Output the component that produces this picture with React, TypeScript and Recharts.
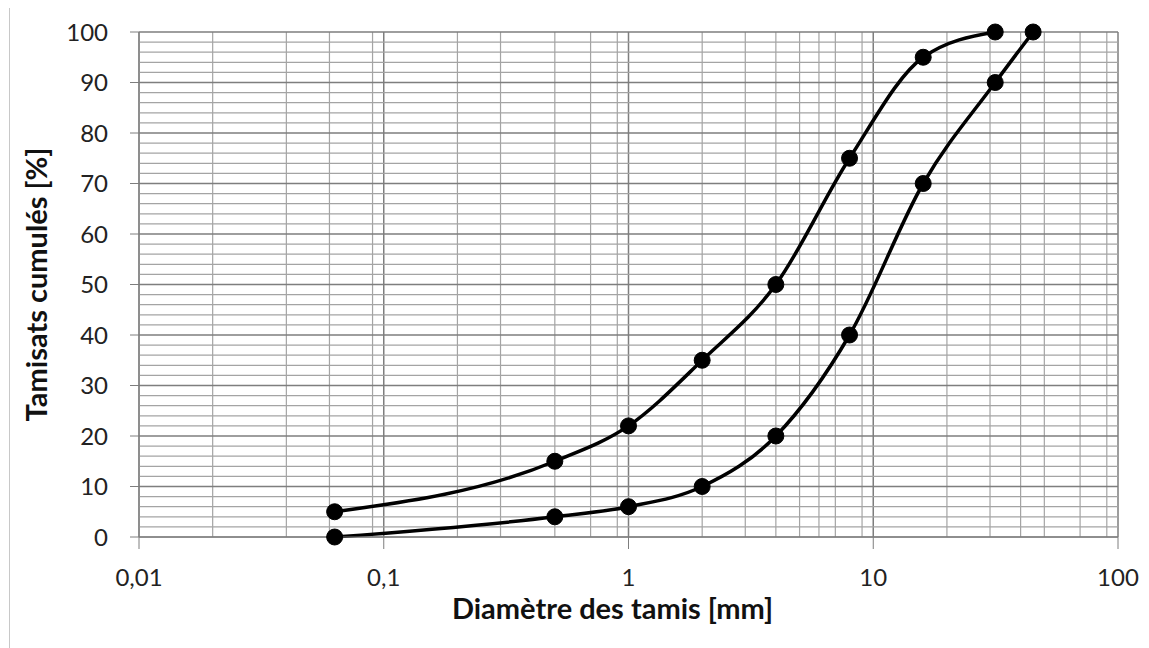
import { LineChart, Line, XAxis, YAxis, CartesianGrid, Label, ReferenceLine } from 'recharts';

// tamis (mm) et tamisats cumulés (%) des deux courbes granulométriques
const sieveA = [0.063, 0.5, 1, 2, 4, 8, 16, 31.5];
const passingA = [5, 15, 22, 35, 50, 75, 95, 100];
const sieveB = [0.063, 0.5, 1, 2, 4, 8, 16, 31.5, 45];
const passingB = [0, 4, 6, 10, 20, 40, 70, 90, 100];

const xTicks = [0.01, 0.1, 1, 10, 100];
const yTicks = [0, 10, 20, 30, 40, 50, 60, 70, 80, 90, 100];

const curveA = sieveA.map((d, i) => ({ d, p: passingA[i] }));
const curveB = sieveB.map((d, i) => ({ d, p: passingB[i] }));

// grille secondaire : 2..9 dans chaque décade, tous les 2 % en vertical
const minorX: number[] = [];
[0.01, 0.1, 1, 10].forEach(dec => {
  for (let k = 2; k <= 9; k++) minorX.push(+(dec * k).toPrecision(3));
});
const minorY: number[] = [];
for (let v = 2; v < 100; v += 2) if (v % 10 !== 0) minorY.push(v);

const font = 'Lato, "Open Sans", sans-serif';
const fmt = (v: number) => String(v).replace('.', ',');

export default function App() {
  return (
    <div style={{ position: 'absolute', left: 0, top: 0, width: 1149, height: 648, background: '#fff' }}>
      <div style={{ position: 'absolute', left: 9, top: 8, bottom: 0, borderLeft: '1px solid #c8c8c8' }} />
      <LineChart
        width={1149}
        height={648}
        margin={{ top: 32, right: 31, bottom: 51, left: 59 }}
        style={{ fontFamily: font }}
      >
        <CartesianGrid stroke="#a4a4a4" strokeWidth={1.2} verticalValues={minorX} horizontal={false} />
        {minorY.map(v => (
          <ReferenceLine key={v} y={v} stroke="#a4a4a4" strokeWidth={1.2} />
        ))}
        <CartesianGrid stroke="#7e7e7e" strokeWidth={1.5} verticalValues={xTicks} horizontalValues={yTicks} />
        <XAxis
          type="number"
          dataKey="d"
          scale="log"
          domain={[0.01, 100]}
          ticks={xTicks}
          allowDataOverflow
          tickFormatter={fmt}
          height={60}
          tickSize={12}
          tickMargin={20}
          stroke="#7e7e7e"
          tick={{ fill: '#222', fontSize: 24, fontFamily: font }}
        >
          <Label
            value="Diamètre des tamis [mm]"
            position="bottom"
            offset={1}
            dx={-16}
            style={{ fill: '#111', fontSize: 29, fontWeight: 700, fontFamily: font }}
          />
        </XAxis>
        <YAxis
          type="number"
          domain={[0, 100]}
          ticks={yTicks}
          width={80}
          tickSize={9}
          tickMargin={22}
          stroke="#7e7e7e"
          tick={{ fill: '#222', fontSize: 24, fontFamily: font }}
        >
          <Label
            value="Tamisats cumulés [%]"
            position="left"
            angle={-90}
            offset={22}
            style={{ textAnchor: 'middle', fill: '#111', fontSize: 29, fontWeight: 700, fontFamily: font }}
          />
        </YAxis>
        <Line
          data={curveA}
          dataKey="p"
          type="monotone"
          stroke="#000"
          strokeWidth={3.5}
          dot={{ r: 8, fill: '#000', stroke: '#000', strokeWidth: 1 }}
          isAnimationActive={false}
        />
        <Line
          data={curveB}
          dataKey="p"
          type="monotone"
          stroke="#000"
          strokeWidth={3.5}
          dot={{ r: 8, fill: '#000', stroke: '#000', strokeWidth: 1 }}
          isAnimationActive={false}
        />
      </LineChart>
    </div>
  );
}
